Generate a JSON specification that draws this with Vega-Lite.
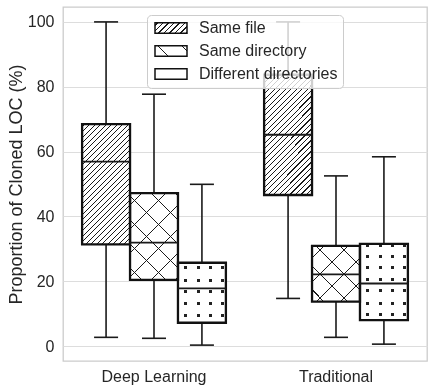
{
"$schema":"https://vega.github.io/schema/vega-lite/v6.json",
"width":364,"height":354,
"autosize":{"type":"none"},
"padding":{"left":63,"top":7,"right":7,"bottom":31},
"background":"white",
"config":{
"view":{"stroke":"#cccccc","strokeWidth":1.3},
"font":"Liberation Sans",
"axis":{"labelFont":"Liberation Sans","titleFont":"Liberation Sans","labelColor":"#262626","titleColor":"#262626","domain":false,"ticks":false,"tickSize":0},
"axisY":{"grid":true,"gridColor":"#dddddd","gridWidth":1.1,"labelFontSize":16,"labelPadding":9,"titleFontSize":18,"titleFontWeight":"normal","titlePadding":2},
"axisX":{"grid":false,"labelFontSize":16,"labelPadding":7,"labelAngle":0}
},
"data":{"values":[
{"cat":"Deep Learning","type":"Same file","min":2.7,"q1":31.4,"med":56.9,"q3":68.5,"max":100},
{"cat":"Deep Learning","type":"Same directory","min":2.4,"q1":20.4,"med":31.9,"q3":47.2,"max":77.7},
{"cat":"Deep Learning","type":"Different directories","min":0.3,"q1":7.2,"med":17.8,"q3":25.7,"max":49.9},
{"cat":"Traditional","type":"Same file","min":14.7,"q1":46.6,"med":65.2,"q3":83.7,"max":100},
{"cat":"Traditional","type":"Same directory","min":2.7,"q1":13.7,"med":22.1,"q3":30.9,"max":52.5},
{"cat":"Traditional","type":"Different directories","min":0.6,"q1":8.0,"med":19.3,"q3":31.5,"max":58.4}
]},
"encoding":{
"x":{"field":"cat","type":"nominal","title":null,"sort":["Deep Learning","Traditional"],"scale":{"paddingInner":0.21,"paddingOuter":0.105}},
"xOffset":{"field":"type","type":"nominal","sort":["Same file","Same directory","Different directories"],"scale":{"paddingInner":0,"paddingOuter":0}}
},
"layer":[
{"mark":{"type":"rule","stroke":"#1a1a1a","strokeWidth":1.6},
 "encoding":{"y":{"field":"min","type":"quantitative","title":"Proportion of Cloned LOC (%)","scale":{"domain":[-4.6,104.6],"nice":false,"zero":false},"axis":{"values":[0,20,40,60,80,100]}},"y2":{"field":"max"}}},
{"mark":{"type":"tick","color":"#1a1a1a","size":24,"thickness":1.6,"opacity":1},
 "encoding":{"y":{"field":"min","type":"quantitative","title":"Proportion of Cloned LOC (%)"}}},
{"mark":{"type":"tick","color":"#1a1a1a","size":24,"thickness":1.6,"opacity":1},
 "encoding":{"y":{"field":"max","type":"quantitative","title":"Proportion of Cloned LOC (%)"}}},
{"mark":{"type":"bar","fill":"#ffffff"},
 "encoding":{"y":{"field":"q1","type":"quantitative","title":"Proportion of Cloned LOC (%)"},"y2":{"field":"q3"}}},
{"transform":[{"filter":"datum.type === 'Same file'"}],
 "mark":{"type":"bar","fill":{"gradient":"linear","x1":0,"y1":0,"x2":0.4815,"y2":1.2069,"stops":[
{"offset":0.0131,"color":"#ffffff"},{"offset":0.0131,"color":"#1a1a1a"},{"offset":0.0196,"color":"#1a1a1a"},{"offset":0.0196,"color":"#ffffff"},
{"offset":0.0458,"color":"#ffffff"},{"offset":0.0458,"color":"#1a1a1a"},{"offset":0.0523,"color":"#1a1a1a"},{"offset":0.0523,"color":"#ffffff"},
{"offset":0.0784,"color":"#ffffff"},{"offset":0.0784,"color":"#1a1a1a"},{"offset":0.0850,"color":"#1a1a1a"},{"offset":0.0850,"color":"#ffffff"},
{"offset":0.1111,"color":"#ffffff"},{"offset":0.1111,"color":"#1a1a1a"},{"offset":0.1177,"color":"#1a1a1a"},{"offset":0.1177,"color":"#ffffff"},
{"offset":0.1438,"color":"#ffffff"},{"offset":0.1438,"color":"#1a1a1a"},{"offset":0.1503,"color":"#1a1a1a"},{"offset":0.1503,"color":"#ffffff"},
{"offset":0.1765,"color":"#ffffff"},{"offset":0.1765,"color":"#1a1a1a"},{"offset":0.1830,"color":"#1a1a1a"},{"offset":0.1830,"color":"#ffffff"},
{"offset":0.2092,"color":"#ffffff"},{"offset":0.2092,"color":"#1a1a1a"},{"offset":0.2157,"color":"#1a1a1a"},{"offset":0.2157,"color":"#ffffff"},
{"offset":0.2418,"color":"#ffffff"},{"offset":0.2418,"color":"#1a1a1a"},{"offset":0.2484,"color":"#1a1a1a"},{"offset":0.2484,"color":"#ffffff"},
{"offset":0.2745,"color":"#ffffff"},{"offset":0.2745,"color":"#1a1a1a"},{"offset":0.2810,"color":"#1a1a1a"},{"offset":0.2810,"color":"#ffffff"},
{"offset":0.3072,"color":"#ffffff"},{"offset":0.3072,"color":"#1a1a1a"},{"offset":0.3137,"color":"#1a1a1a"},{"offset":0.3137,"color":"#ffffff"},
{"offset":0.3399,"color":"#ffffff"},{"offset":0.3399,"color":"#1a1a1a"},{"offset":0.3464,"color":"#1a1a1a"},{"offset":0.3464,"color":"#ffffff"},
{"offset":0.3725,"color":"#ffffff"},{"offset":0.3725,"color":"#1a1a1a"},{"offset":0.3791,"color":"#1a1a1a"},{"offset":0.3791,"color":"#ffffff"},
{"offset":0.4052,"color":"#ffffff"},{"offset":0.4052,"color":"#1a1a1a"},{"offset":0.4118,"color":"#1a1a1a"},{"offset":0.4118,"color":"#ffffff"},
{"offset":0.4379,"color":"#ffffff"},{"offset":0.4379,"color":"#1a1a1a"},{"offset":0.4444,"color":"#1a1a1a"},{"offset":0.4444,"color":"#ffffff"},
{"offset":0.4706,"color":"#ffffff"},{"offset":0.4706,"color":"#1a1a1a"},{"offset":0.4771,"color":"#1a1a1a"},{"offset":0.4771,"color":"#ffffff"},
{"offset":0.5033,"color":"#ffffff"},{"offset":0.5033,"color":"#1a1a1a"},{"offset":0.5098,"color":"#1a1a1a"},{"offset":0.5098,"color":"#ffffff"},
{"offset":0.5359,"color":"#ffffff"},{"offset":0.5359,"color":"#1a1a1a"},{"offset":0.5425,"color":"#1a1a1a"},{"offset":0.5425,"color":"#ffffff"},
{"offset":0.5686,"color":"#ffffff"},{"offset":0.5686,"color":"#1a1a1a"},{"offset":0.5752,"color":"#1a1a1a"},{"offset":0.5752,"color":"#ffffff"},
{"offset":0.6013,"color":"#ffffff"},{"offset":0.6013,"color":"#1a1a1a"},{"offset":0.6079,"color":"#1a1a1a"},{"offset":0.6079,"color":"#ffffff"},
{"offset":0.6340,"color":"#ffffff"},{"offset":0.6340,"color":"#1a1a1a"},{"offset":0.6405,"color":"#1a1a1a"},{"offset":0.6405,"color":"#ffffff"},
{"offset":0.6667,"color":"#ffffff"},{"offset":0.6667,"color":"#1a1a1a"},{"offset":0.6732,"color":"#1a1a1a"},{"offset":0.6732,"color":"#ffffff"},
{"offset":0.6993,"color":"#ffffff"},{"offset":0.6993,"color":"#1a1a1a"},{"offset":0.7059,"color":"#1a1a1a"},{"offset":0.7059,"color":"#ffffff"},
{"offset":0.7320,"color":"#ffffff"},{"offset":0.7320,"color":"#1a1a1a"},{"offset":0.7386,"color":"#1a1a1a"},{"offset":0.7386,"color":"#ffffff"},
{"offset":0.7647,"color":"#ffffff"},{"offset":0.7647,"color":"#1a1a1a"},{"offset":0.7713,"color":"#1a1a1a"},{"offset":0.7713,"color":"#ffffff"},
{"offset":0.7974,"color":"#ffffff"},{"offset":0.7974,"color":"#1a1a1a"},{"offset":0.8039,"color":"#1a1a1a"},{"offset":0.8039,"color":"#ffffff"},
{"offset":0.8301,"color":"#ffffff"},{"offset":0.8301,"color":"#1a1a1a"},{"offset":0.8366,"color":"#1a1a1a"},{"offset":0.8366,"color":"#ffffff"},
{"offset":0.8627,"color":"#ffffff"},{"offset":0.8627,"color":"#1a1a1a"},{"offset":0.8693,"color":"#1a1a1a"},{"offset":0.8693,"color":"#ffffff"},
{"offset":0.8954,"color":"#ffffff"},{"offset":0.8954,"color":"#1a1a1a"},{"offset":0.9020,"color":"#1a1a1a"},{"offset":0.9020,"color":"#ffffff"},
{"offset":0.9281,"color":"#ffffff"},{"offset":0.9281,"color":"#1a1a1a"},{"offset":0.9347,"color":"#1a1a1a"},{"offset":0.9347,"color":"#ffffff"},
{"offset":0.9608,"color":"#ffffff"},{"offset":0.9608,"color":"#1a1a1a"},{"offset":0.9673,"color":"#1a1a1a"},{"offset":0.9673,"color":"#ffffff"},
{"offset":0.9935,"color":"#ffffff"},{"offset":0.9935,"color":"#1a1a1a"},{"offset":1,"color":"#1a1a1a"}]}},
 "encoding":{"y":{"field":"q1","type":"quantitative","title":"Proportion of Cloned LOC (%)"},"y2":{"field":"q3"}}},
{"transform":[{"filter":"datum.type === 'Same directory'"}],
 "mark":{"type":"bar"},
 "encoding":{"y":{"field":"q1","type":"quantitative","title":"Proportion of Cloned LOC (%)"},"y2":{"field":"q3"},
 "fill":{"condition":{"test":"datum.cat === 'Deep Learning'","value":{"gradient":"linear","x1":0,"y1":0,"x2":0.657,"y2":1.1895,"stops":[
{"offset":0.0845,"color":"#ffffff"},{"offset":0.0845,"color":"#1a1a1a"},{"offset":0.0935,"color":"#1a1a1a"},{"offset":0.0935,"color":"#ffffff"},
{"offset":0.2624,"color":"#ffffff"},{"offset":0.2624,"color":"#1a1a1a"},{"offset":0.2714,"color":"#1a1a1a"},{"offset":0.2714,"color":"#ffffff"},
{"offset":0.4403,"color":"#ffffff"},{"offset":0.4403,"color":"#1a1a1a"},{"offset":0.4493,"color":"#1a1a1a"},{"offset":0.4493,"color":"#ffffff"},
{"offset":0.6182,"color":"#ffffff"},{"offset":0.6182,"color":"#1a1a1a"},{"offset":0.6272,"color":"#1a1a1a"},{"offset":0.6272,"color":"#ffffff"},
{"offset":0.7961,"color":"#ffffff"},{"offset":0.7961,"color":"#1a1a1a"},{"offset":0.8051,"color":"#1a1a1a"},{"offset":0.8051,"color":"#ffffff"},
{"offset":0.9740,"color":"#ffffff"},{"offset":0.9740,"color":"#1a1a1a"},{"offset":0.9830,"color":"#1a1a1a"},{"offset":0.9830,"color":"#ffffff"}]}},
 "value":{"gradient":"linear","x1":0,"y1":0,"x2":0.9197,"y2":1.0692,"stops":[
{"offset":0.1093,"color":"#ffffff"},{"offset":0.1093,"color":"#1a1a1a"},{"offset":0.1219,"color":"#1a1a1a"},{"offset":0.1219,"color":"#ffffff"},
{"offset":0.3405,"color":"#ffffff"},{"offset":0.3405,"color":"#1a1a1a"},{"offset":0.3531,"color":"#1a1a1a"},{"offset":0.3531,"color":"#ffffff"},
{"offset":0.5717,"color":"#ffffff"},{"offset":0.5717,"color":"#1a1a1a"},{"offset":0.5843,"color":"#1a1a1a"},{"offset":0.5843,"color":"#ffffff"},
{"offset":0.8029,"color":"#ffffff"},{"offset":0.8029,"color":"#1a1a1a"},{"offset":0.8155,"color":"#1a1a1a"},{"offset":0.8155,"color":"#ffffff"}]}}}},
{"transform":[{"filter":"datum.type === 'Same directory'"}],
 "mark":{"type":"bar"},
 "encoding":{"y":{"field":"q1","type":"quantitative","title":"Proportion of Cloned LOC (%)"},"y2":{"field":"q3"},
 "fill":{"condition":{"test":"datum.cat === 'Deep Learning'","value":{"gradient":"linear","x1":0,"y1":1,"x2":0.657,"y2":-0.1895,"stops":[
{"offset":0.0845,"color":"rgba(0,0,0,0)"},{"offset":0.0845,"color":"#1a1a1a"},{"offset":0.0935,"color":"#1a1a1a"},{"offset":0.0935,"color":"rgba(0,0,0,0)"},
{"offset":0.2624,"color":"rgba(0,0,0,0)"},{"offset":0.2624,"color":"#1a1a1a"},{"offset":0.2714,"color":"#1a1a1a"},{"offset":0.2714,"color":"rgba(0,0,0,0)"},
{"offset":0.4403,"color":"rgba(0,0,0,0)"},{"offset":0.4403,"color":"#1a1a1a"},{"offset":0.4493,"color":"#1a1a1a"},{"offset":0.4493,"color":"rgba(0,0,0,0)"},
{"offset":0.6182,"color":"rgba(0,0,0,0)"},{"offset":0.6182,"color":"#1a1a1a"},{"offset":0.6272,"color":"#1a1a1a"},{"offset":0.6272,"color":"rgba(0,0,0,0)"},
{"offset":0.7961,"color":"rgba(0,0,0,0)"},{"offset":0.7961,"color":"#1a1a1a"},{"offset":0.8051,"color":"#1a1a1a"},{"offset":0.8051,"color":"rgba(0,0,0,0)"},
{"offset":0.9740,"color":"rgba(0,0,0,0)"},{"offset":0.9740,"color":"#1a1a1a"},{"offset":0.9830,"color":"#1a1a1a"},{"offset":0.9830,"color":"rgba(0,0,0,0)"}]}},
 "value":{"gradient":"linear","x1":0,"y1":1,"x2":0.9197,"y2":-0.0692,"stops":[
{"offset":0.1093,"color":"rgba(0,0,0,0)"},{"offset":0.1093,"color":"#1a1a1a"},{"offset":0.1219,"color":"#1a1a1a"},{"offset":0.1219,"color":"rgba(0,0,0,0)"},
{"offset":0.3405,"color":"rgba(0,0,0,0)"},{"offset":0.3405,"color":"#1a1a1a"},{"offset":0.3531,"color":"#1a1a1a"},{"offset":0.3531,"color":"rgba(0,0,0,0)"},
{"offset":0.5717,"color":"rgba(0,0,0,0)"},{"offset":0.5717,"color":"#1a1a1a"},{"offset":0.5843,"color":"#1a1a1a"},{"offset":0.5843,"color":"rgba(0,0,0,0)"},
{"offset":0.8029,"color":"rgba(0,0,0,0)"},{"offset":0.8029,"color":"#1a1a1a"},{"offset":0.8155,"color":"#1a1a1a"},{"offset":0.8155,"color":"rgba(0,0,0,0)"}]}}}},
{"transform":[{"filter":"datum.type === 'Different directories'"}],
 "mark":{"type":"bar"},
 "encoding":{"y":{"field":"q1","type":"quantitative","title":"Proportion of Cloned LOC (%)"},"y2":{"field":"q3"},
 "fill":{"condition":{"test":"datum.cat === 'Deep Learning'","value":{"gradient":"linear","x1":0,"y1":0,"x2":0,"y2":1,"stops":[
{"offset":0.0580,"color":"#ffffff"},{"offset":0.0580,"color":"#222222"},{"offset":0.1080,"color":"#222222"},{"offset":0.1080,"color":"#ffffff"},
{"offset":0.2630,"color":"#ffffff"},{"offset":0.2630,"color":"#222222"},{"offset":0.3130,"color":"#222222"},{"offset":0.3130,"color":"#ffffff"},
{"offset":0.4470,"color":"#ffffff"},{"offset":0.4470,"color":"#222222"},{"offset":0.4970,"color":"#222222"},{"offset":0.4970,"color":"#ffffff"},
{"offset":0.6520,"color":"#ffffff"},{"offset":0.6520,"color":"#222222"},{"offset":0.7020,"color":"#222222"},{"offset":0.7020,"color":"#ffffff"},
{"offset":0.8470,"color":"#ffffff"},{"offset":0.8470,"color":"#222222"},{"offset":0.8970,"color":"#222222"},{"offset":0.8970,"color":"#ffffff"}]}},
 "value":{"gradient":"linear","x1":0,"y1":0,"x2":0,"y2":1,"stops":[
{"offset":0.0003,"color":"#ffffff"},{"offset":0.0003,"color":"#222222"},{"offset":0.0397,"color":"#222222"},{"offset":0.0397,"color":"#ffffff"},
{"offset":0.1473,"color":"#ffffff"},{"offset":0.1473,"color":"#222222"},{"offset":0.1867,"color":"#222222"},{"offset":0.1867,"color":"#ffffff"},
{"offset":0.2913,"color":"#ffffff"},{"offset":0.2913,"color":"#222222"},{"offset":0.3307,"color":"#222222"},{"offset":0.3307,"color":"#ffffff"},
{"offset":0.4523,"color":"#ffffff"},{"offset":0.4523,"color":"#222222"},{"offset":0.4917,"color":"#222222"},{"offset":0.4917,"color":"#ffffff"},
{"offset":0.5973,"color":"#ffffff"},{"offset":0.5973,"color":"#222222"},{"offset":0.6367,"color":"#222222"},{"offset":0.6367,"color":"#ffffff"},
{"offset":0.7583,"color":"#ffffff"},{"offset":0.7583,"color":"#222222"},{"offset":0.7977,"color":"#222222"},{"offset":0.7977,"color":"#ffffff"},
{"offset":0.9123,"color":"#ffffff"},{"offset":0.9123,"color":"#222222"},{"offset":0.9517,"color":"#222222"},{"offset":0.9517,"color":"#ffffff"}]}}}},
{"transform":[{"filter":"datum.type === 'Different directories'"}],
 "mark":{"type":"bar","blend":"lighten","fill":{"gradient":"linear","x1":0,"y1":0,"x2":1,"y2":0,"stops":[
{"offset":0.1354,"color":"#ffffff"},{"offset":0.1354,"color":"#000000"},{"offset":0.1980,"color":"#000000"},{"offset":0.1980,"color":"#ffffff"},
{"offset":0.3895,"color":"#ffffff"},{"offset":0.3895,"color":"#000000"},{"offset":0.4521,"color":"#000000"},{"offset":0.4521,"color":"#ffffff"},
{"offset":0.6437,"color":"#ffffff"},{"offset":0.6437,"color":"#000000"},{"offset":0.7063,"color":"#000000"},{"offset":0.7063,"color":"#ffffff"},
{"offset":0.8977,"color":"#ffffff"},{"offset":0.8977,"color":"#000000"},{"offset":0.9603,"color":"#000000"},{"offset":0.9603,"color":"#ffffff"}]}},
 "encoding":{"y":{"field":"q1","type":"quantitative","title":"Proportion of Cloned LOC (%)"},"y2":{"field":"q3"}}},
{"mark":{"type":"bar","filled":false,"strokeWidth":2.3,"opacity":1},
 "encoding":{"y":{"field":"q1","type":"quantitative","title":"Proportion of Cloned LOC (%)"},"y2":{"field":"q3"},
 "stroke":{"field":"type","type":"nominal","sort":["Same file","Same directory","Different directories"],"scale":{"range":["#111111","#111111","#111111"]},
 "legend":{"title":null,"orient":"none","legendX":84,"legendY":8,"zindex":1,
 "symbolType":"M-1,-1.05H5.4V1.05H-1Z","symbolSize":100,"symbolStrokeWidth":1.5,"symbolStrokeColor":"#111111",
 "labelFont":"Liberation Sans","labelFontSize":16,"labelColor":"#262626","labelOffset":31,"rowPadding":5,"padding":5,
 "fillColor":"rgba(255,255,255,0.8)","strokeColor":"#cccccc","cornerRadius":4,
 "encoding":{"symbols":{"fillOpacity":{"value":1},"strokeWidth":{"value":1.5},
 "fill":{"condition":[{"test":"datum.value === 'Same file'","value":{"gradient":"linear","x1":0,"y1":0,"x2":1.199,"y2":0.3934,"stops":[
{"offset":0.0518,"color":"#ffffff"},{"offset":0.0518,"color":"#1a1a1a"},{"offset":0.0776,"color":"#1a1a1a"},{"offset":0.0776,"color":"#ffffff"},
{"offset":0.1812,"color":"#ffffff"},{"offset":0.1812,"color":"#1a1a1a"},{"offset":0.2070,"color":"#1a1a1a"},{"offset":0.2070,"color":"#ffffff"},
{"offset":0.3106,"color":"#ffffff"},{"offset":0.3106,"color":"#1a1a1a"},{"offset":0.3364,"color":"#1a1a1a"},{"offset":0.3364,"color":"#ffffff"},
{"offset":0.4400,"color":"#ffffff"},{"offset":0.4400,"color":"#1a1a1a"},{"offset":0.4658,"color":"#1a1a1a"},{"offset":0.4658,"color":"#ffffff"},
{"offset":0.5695,"color":"#ffffff"},{"offset":0.5695,"color":"#1a1a1a"},{"offset":0.5953,"color":"#1a1a1a"},{"offset":0.5953,"color":"#ffffff"},
{"offset":0.6989,"color":"#ffffff"},{"offset":0.6989,"color":"#1a1a1a"},{"offset":0.7247,"color":"#1a1a1a"},{"offset":0.7247,"color":"#ffffff"},
{"offset":0.8283,"color":"#ffffff"},{"offset":0.8283,"color":"#1a1a1a"},{"offset":0.8541,"color":"#1a1a1a"},{"offset":0.8541,"color":"#ffffff"},
{"offset":0.9577,"color":"#ffffff"},{"offset":0.9577,"color":"#1a1a1a"},{"offset":0.9835,"color":"#1a1a1a"},{"offset":0.9835,"color":"#ffffff"}]}},
{"test":"datum.value === 'Same directory'","value":{"gradient":"linear","x1":0,"y1":1,"x2":1.199,"y2":0.6066,"stops":[
{"offset":0.3027,"color":"#ffffff"},{"offset":0.3027,"color":"#1a1a1a"},{"offset":0.3333,"color":"#1a1a1a"},{"offset":0.3333,"color":"#ffffff"},
{"offset":0.8677,"color":"#ffffff"},{"offset":0.8677,"color":"#1a1a1a"},{"offset":0.8983,"color":"#1a1a1a"},{"offset":0.8983,"color":"#ffffff"}]}}],
 "value":"#ffffff"}}}}}}},
{"mark":{"type":"tick","color":"#1a1a1a","size":48,"thickness":1.8,"opacity":1},
 "encoding":{"y":{"field":"med","type":"quantitative","title":"Proportion of Cloned LOC (%)"}}}
]
}
